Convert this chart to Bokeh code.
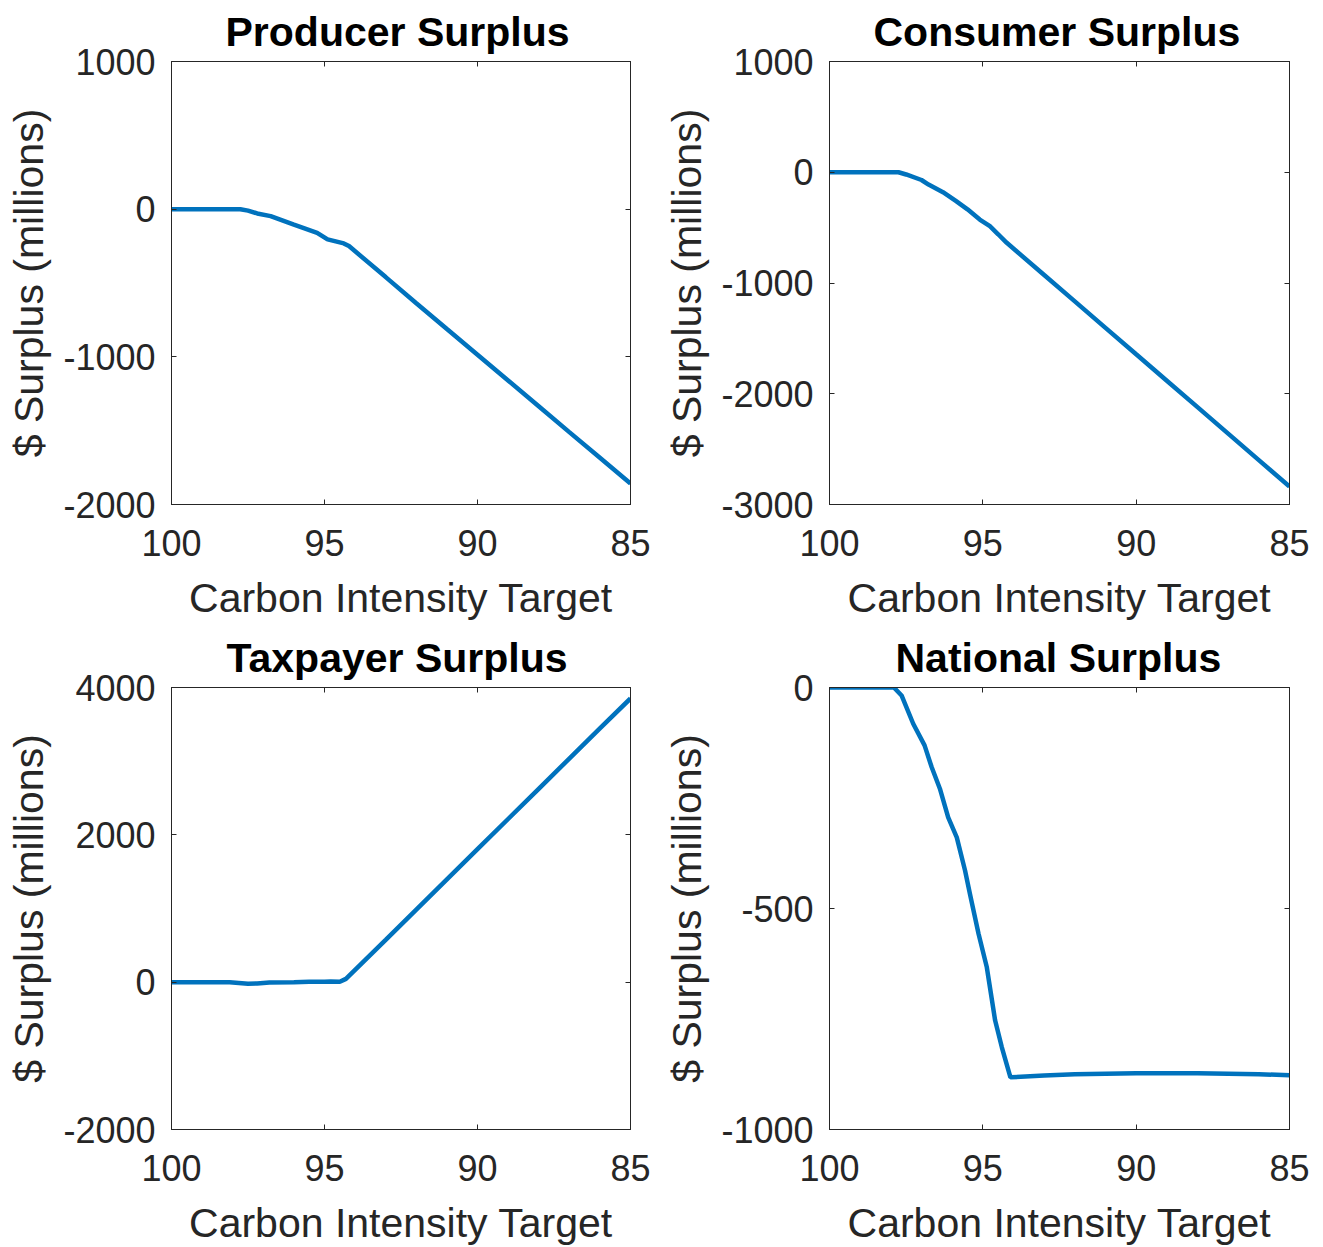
from bokeh.plotting import figure
from bokeh.models import Range1d, FixedTicker, LinearAxis, ColumnDataSource
from bokeh.layouts import gridplot
from bokeh.embed import file_html
from bokeh.resources import INLINE

# ---------------- data ----------------
x_ticks = [100, 95, 90, 85]

prod_x = [100, 98, 97.75, 97.5, 97.2, 96.76, 96.0, 95.24, 94.9, 94.37, 94.2, 93, 92, 91, 90, 89, 88, 87, 86, 85]
prod_y = [0, 0, 0, -10, -29, -47, -104, -160, -205, -232, -250, -460, -637, -812, -986, -1160, -1335, -1510, -1684, -1858]
prod_yticks = [-2000, -1000, 0, 1000]

cons_x = [100, 98, 97.75, 97.5, 97, 96.77, 96.3, 95.87, 95.5, 95.1, 94.77, 94.5, 94.22, 93, 92, 91, 90, 89, 88, 87, 86, 85]
cons_y = [0, 0, 0, -20, -70, -111, -180, -261, -335, -427, -487, -560, -637, -928, -1166, -1405, -1644, -1882, -2121, -2360, -2599, -2838]
cons_yticks = [-3000, -2000, -1000, 0, 1000]

tax_x = [100, 98.1, 97.8, 97.5, 97.2, 96.8, 96.0, 95.5, 95.0, 94.8, 94.5, 94.3, 93, 92, 91, 90, 89, 88, 87, 86, 85]
tax_y = [0, 0, -10, -20, -18, -5, 0, 5, 5, 10, 5, 45, 575, 985, 1395, 1805, 2215, 2625, 3035, 3445, 3851]
tax_yticks = [-2000, 0, 2000, 4000]

nat_x = [100, 97.9, 97.65, 97.27, 96.9, 96.67, 96.4, 96.13, 95.85, 95.58, 95.42, 95.14, 94.87, 94.6, 94.38, 94.1, 93, 92, 91, 90, 89, 88, 87, 86, 85]
nat_y = [0, 0, -18, -82, -131, -180, -229, -294, -339, -414, -467, -557, -633, -753, -814, -882, -878, -875, -874, -873, -873, -873, -874, -875, -877]
nat_yticks = [-1000, -500, 0]

FONT = "Liberation Sans"
DARK = "#262626"
BLUE = "#0072BD"


def style_axis(ax, ticks, show_labels, standoff):
    ax.ticker = FixedTicker(ticks=ticks)
    ax.major_tick_in = 5
    ax.major_tick_out = 0
    ax.minor_tick_in = 0
    ax.minor_tick_out = 0
    ax.axis_line_color = DARK
    ax.axis_line_width = 1
    ax.major_tick_line_color = DARK
    ax.major_tick_line_width = 1
    ax.major_label_text_font = FONT
    ax.major_label_text_color = DARK
    ax.major_label_text_font_size = "36px"
    if show_labels:
        ax.major_label_overrides = {t: str(t) for t in ticks}
        ax.major_label_standoff = standoff
    else:
        ax.major_label_overrides = {t: "" for t in ticks}
        ax.major_label_standoff = 0


def make(title, title_off, xs, ys, y0, y1, yticks, fw, fh, bl, br, bt, bb):
    p = figure(frame_width=fw, frame_height=fh, x_range=Range1d(100, 85), y_range=Range1d(y0, y1),
               output_backend="svg", toolbar_location=None, title=title,
               min_border_left=bl, min_border_right=br, min_border_top=bt, min_border_bottom=bb,
               x_axis_label="Carbon Intensity Target", y_axis_label="$ Surplus (millions)")
    p.background_fill_color = "white"
    p.border_fill_color = "white"
    p.outline_line_color = DARK
    p.outline_line_width = 1
    p.xgrid.visible = False
    p.ygrid.visible = False
    p.title.text_font = FONT
    p.title.text_font_size = "41px"
    p.title.text_font_style = "bold"
    p.title.text_color = "black"
    p.title.align = "left"
    p.title.offset = title_off
    p.title.standoff = 13

    xa = p.xaxis[0]
    ya = p.yaxis[0]
    style_axis(xa, x_ticks, True, 25)
    style_axis(ya, yticks, True, 16)
    for ax in (xa, ya):
        ax.axis_label_text_font = FONT
        ax.axis_label_text_font_size = "41px"
        ax.axis_label_text_font_style = "normal"
        ax.axis_label_text_color = DARK
    xa.axis_label_standoff = 16
    ya.axis_label_standoff = 8

    top = LinearAxis()
    style_axis(top, x_ticks, False, 0)
    p.add_layout(top, "above")
    right = LinearAxis()
    style_axis(right, yticks, False, 0)
    p.add_layout(right, "right")

    src = ColumnDataSource(data=dict(x=xs, y=ys))
    p.line("x", "y", source=src, line_color=BLUE, line_width=4.5)
    return p


p1 = make("Producer Surplus", 54, prod_x, prod_y, -2000, 1000, prod_yticks, 459, 443, 171, 28, 0, 122)
p2 = make("Consumer Surplus", 44, cons_x, cons_y, -3000, 1000, cons_yticks, 460, 443, 171, 26, 0, 122)
p3 = make("Taxpayer Surplus", 55, tax_x, tax_y, -2000, 4000, tax_yticks, 459, 442, 171, 28, 0, 0)
p4 = make("National Surplus", 66, nat_x, nat_y, -1000, 0, nat_yticks, 460, 442, 171, 26, 0, 0)

grid = gridplot([[p1, p2], [p3, p4]], toolbar_location=None)

open("out.html", "w").write(file_html(grid, INLINE))
